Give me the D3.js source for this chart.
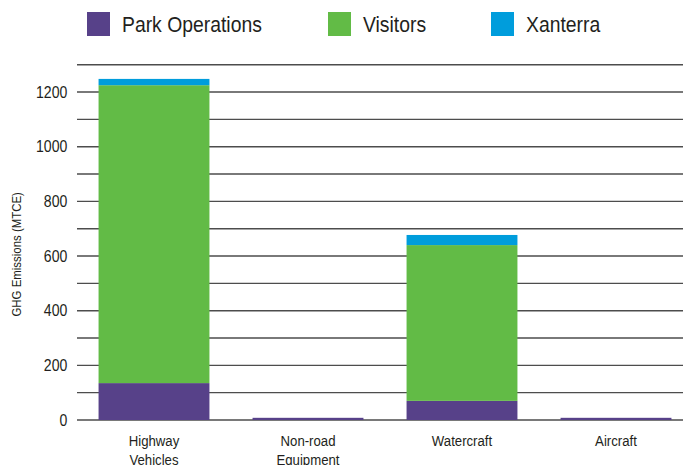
<!DOCTYPE html>
<html>
<head>
<meta charset="utf-8">
<script src="https://cdn.jsdelivr.net/npm/d3@7"></script>
<style>
  body { margin: 0; background: #fff; }
  svg text { font-family: "Liberation Sans", Arial, sans-serif; fill: #231f20; }
</style>
</head>
<body>
<div id="chart"></div>
<script>
// data
const categories = ['Highway Vehicles', 'Non-road Equipment', 'Watercraft', 'Aircraft'];
const seriesNames = ['Park Operations', 'Visitors', 'Xanterra'];
const parkOperations = [135, 8, 70, 8];
const visitors = [1090, 0, 570, 0];
const xanterra = [23, 0, 37, 0];
const yTickLabels = [0, 200, 400, 600, 800, 1000, 1200];
const colors = ['#574189', '#62bb46', '#009ddc'];

const width = 683, height = 465;
const left = 77, zeroY = 420, topY = 64.7;
// the original uses a condensed face; squeeze the regular one instead
const narrow = 0.88;

const rows = categories.map((c, i) => ({
  category: c,
  'Park Operations': parkOperations[i],
  'Visitors': visitors[i],
  'Xanterra': xanterra[i]
}));

const svg = d3.select('#chart').append('svg')
  .attr('width', width)
  .attr('height', height);

const x = d3.scaleBand()
  .domain(categories)
  .range([left, left + 616])
  .paddingInner(0.28)
  .paddingOuter(0.14);

const y = d3.scaleLinear()
  .domain([0, 1300])
  .range([zeroY, topY]);

const color = d3.scaleOrdinal().domain(seriesNames).range(colors);

// horizontal gridlines every 100
svg.append('g')
  .selectAll('line')
  .data(d3.range(0, 1301, 100))
  .enter().append('line')
    .attr('x1', left)
    .attr('x2', width)
    .attr('y1', d => y(d))
    .attr('y2', d => y(d))
    .attr('stroke', '#4d4d4d')
    .attr('stroke-width', 1.4);

// y labels
const yAxis = d3.axisLeft(y).tickValues(yTickLabels).tickFormat(d3.format('d')).tickSize(0).tickPadding(11);
const yg = svg.append('g')
  .attr('transform', `translate(${left}, 0)`)
  .call(yAxis);
yg.select('.domain').remove();
yg.selectAll('text')
  .style('font-size', '16px')
  .attr('fill', '#231f20')
  .attr('transform', `scale(${narrow}, 1)`);

// axis title
svg.append('text')
  .attr('transform', `translate(21, ${(zeroY + topY) / 2 + 12}) rotate(-90) scale(${narrow}, 1)`)
  .attr('text-anchor', 'middle')
  .style('font-size', '13px')
  .text('GHG Emissions (MTCE)');

// stacked bars
const stacked = d3.stack().keys(seriesNames)(rows);
svg.append('g')
  .selectAll('g')
  .data(stacked)
  .enter().append('g')
    .attr('fill', d => color(d.key))
  .selectAll('rect')
  .data(d => d)
  .enter().append('rect')
    .attr('x', d => x(d.data.category))
    .attr('width', x.bandwidth())
    .attr('y', d => y(d[1]))
    .attr('height', d => y(d[0]) - y(d[1]));

// category labels, wrapped on the space
const xg = svg.append('g');
categories.forEach(c => {
  const t = xg.append('text')
    .attr('transform', `translate(${x(c) + x.bandwidth() / 2}, 446) scale(${narrow}, 1)`)
    .attr('text-anchor', 'middle')
    .style('font-size', '15px');
  c.split(' ').forEach((w, i) => {
    t.append('tspan')
      .attr('x', 0)
      .attr('dy', i ? 19.5 : 0)
      .text(w);
  });
});

// legend
const legendX = [87, 328, 491];
const legend = svg.append('g')
  .selectAll('g')
  .data(seriesNames)
  .enter().append('g')
    .attr('transform', (d, i) => `translate(${legendX[i]}, 12)`);
legend.append('rect')
  .attr('width', 23)
  .attr('height', 24)
  .attr('fill', d => color(d));
legend.append('text')
  .attr('transform', `translate(35, 20) scale(${narrow}, 1)`)
  .style('font-size', '22px')
  .text(d => d);
</script>
</body>
</html>
